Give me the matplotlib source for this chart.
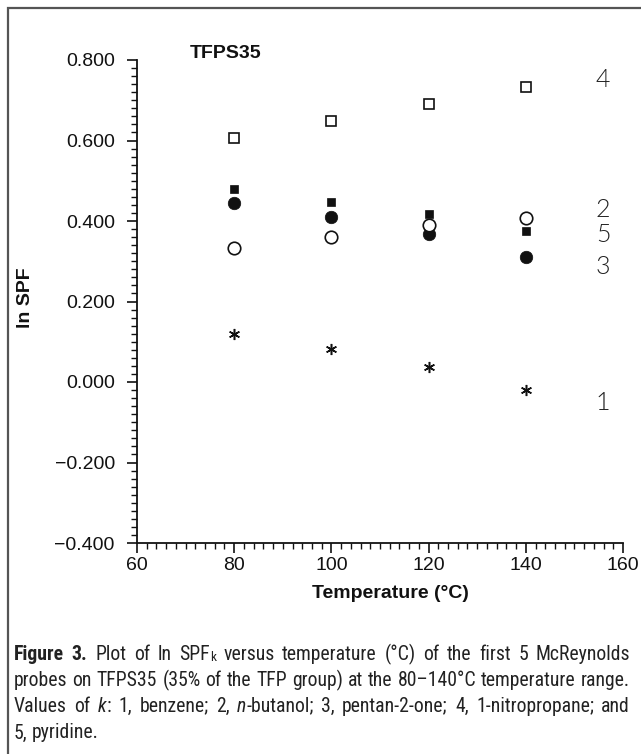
import matplotlib
matplotlib.use("Agg")
import matplotlib.pyplot as plt
from matplotlib.ticker import MultipleLocator, FuncFormatter
from matplotlib.patches import Rectangle
from matplotlib import font_manager
import logging
logging.getLogger("matplotlib.font_manager").setLevel(logging.ERROR)

temperatures = [80, 100, 120, 140]
probe1_benzene = [0.119, 0.082, 0.037, -0.020]
probe2_butanol = [0.332, 0.361, 0.390, 0.407]
probe3_pentanone = [0.444, 0.409, 0.368, 0.311]
probe4_nitropropane = [0.606, 0.648, 0.691, 0.733]
probe5_pyridine = [0.479, 0.448, 0.417, 0.376]

series_labels = ["1", "2", "3", "4", "5"]
label_y = [-0.052, 0.427, 0.286, 0.750, 0.365]

W, H = 641, 754
fig = plt.figure(figsize=(W / 100, H / 100), dpi=100)

def fx(x):
    return x / W

def fy(y):
    return 1 - y / H

# frame around figure
fig.patches.append(Rectangle((fx(8), fy(780)), fx(700), 772 / H, transform=fig.transFigure,
                             fill=False, edgecolor="#555555", lw=1.6))

sans = "Liberation Sans"
ax = fig.add_axes([fx(137), fy(543), fx(623) - fx(137), fy(60) - fy(543)])
ax.set_xlim(60, 160)
ax.set_ylim(-0.4, 0.8)
for s in ["top", "right"]:
    ax.spines[s].set_visible(False)
for s in ["left", "bottom"]:
    ax.spines[s].set_linewidth(1.3)
    ax.spines[s].set_color("#111111")

ax.xaxis.set_major_locator(MultipleLocator(20))
ax.xaxis.set_minor_locator(MultipleLocator(2))
ax.yaxis.set_major_locator(MultipleLocator(0.2))
ax.yaxis.set_minor_locator(MultipleLocator(0.02))
ax.yaxis.set_major_formatter(FuncFormatter(lambda v, p: f"{v:.3f}".replace("-", "\u2212")))
ax.tick_params(which="major", direction="out", length=7, width=1.2, color="#111111",
               labelsize=14, labelcolor="#111111")
ax.tick_params(which="minor", direction="out", length=4.5, width=1.0, color="#111111")
ax.tick_params(axis="y", which="major", pad=9)
ax.tick_params(axis="x", which="major", pad=3)
for lab in ax.get_xticklabels() + ax.get_yticklabels():
    lab.set_fontfamily(sans)

ax.plot(temperatures, probe4_nitropropane, linestyle="none", marker="s", ms=7.5,
        mfc="white", mec="#111111", mew=1.2, clip_on=False)
ax.plot(temperatures, probe5_pyridine, linestyle="none", marker="s", ms=5.5,
        mfc="#111111", mec="#111111", mew=0.5, clip_on=False)
ax.plot(temperatures, probe3_pentanone, linestyle="none", marker="o", ms=9,
        mfc="#111111", mec="#111111", mew=0.5, clip_on=False)
ax.plot(temperatures, probe2_butanol, linestyle="none", marker="o", ms=9,
        mfc="white", mec="#111111", mew=1.2, clip_on=False)
ax.plot(temperatures, probe1_benzene, linestyle="none", marker=(6, 2, 0), ms=8,
        mfc="#111111", mec="#111111", mew=1.1, clip_on=False)

for lab, yv in zip(series_labels, label_y):
    ax.text(155.9, yv, lab, ha="center", va="center", fontsize=18, fontfamily="Lato",
            fontweight=300, color="#222222")

fig.text(fx(190), fy(54), "TFPS35", ha="left", va="center", fontsize=14,
         fontweight="bold", fontfamily=sans, color="#111111")
fig.text(fx(25), fy(298), "ln SPF", ha="center", va="center", rotation=90, fontsize=14,
         fontweight="bold", fontfamily=sans, color="#111111")
fig.text(fx(390), fy(594), "Temperature (\u00b0C)", ha="center", va="center", fontsize=14,
         fontweight="bold", fontfamily=sans, color="#111111")

# caption with mixed styles, justified
avail = {f.name for f in font_manager.fontManager.ttflist}
cap_family = [f for f in ["Roboto Condensed", "Liberation Sans Narrow", "Open Sans Condensed",
                          "Roboto"] if f in avail] or ["DejaVu Sans"]
cap_family = cap_family[:1] + ["DejaVu Sans"]
renderer = fig.canvas.get_renderer()

caption_lines = [
    [("Figure 3.", "bold", "normal", 0), (" Plot of ln SPF", "normal", "normal", 0), ("k", "normal", "normal", 1),
     (" versus temperature (\u00b0C) of the first 5 McReynolds", "normal", "normal", 0)],
    [("probes on TFPS35 (35% of the TFP group) at the 80\u2013140\u00b0C temperature range.", "normal", "normal", 0)],
    [("Values of ", "normal", "normal", 0), ("k", "normal", "italic", 0), (": 1, benzene; 2, ", "normal", "normal", 0),
     ("n", "normal", "italic", 0), ("-butanol; 3, pentan-2-one; 4, 1-nitropropane; and", "normal", "normal", 0)],
    [("5, pyridine.", "normal", "normal", 0)],
]
justify = [True, True, True, False]
line_y = [652, 678, 704, 731]
x_left, x_right = 14, 630


def tokens_of(runs):
    words = [[]]
    for txt, wt, st, sub in runs:
        parts = txt.split(" ")
        for i, p in enumerate(parts):
            if i > 0:
                words.append([])
            if p:
                words[-1].append((p, wt, st, sub))
    return [w for w in words if w]


def measure(piece, size):
    p, wt, st, sub = piece
    s = size * (0.68 if sub else 1.0)
    t = fig.text(0, 0, p, fontsize=s, fontweight=wt, fontstyle=st, family=cap_family)
    w = t.get_window_extent(renderer).width
    t.remove()
    return w


base_size = 17.0
natural = []
for runs in caption_lines:
    words = tokens_of(runs)
    sp = measure(("x x", "normal", "normal", 0), base_size) - measure(("xx", "normal", "normal", 0), base_size)
    tot = sum(sum(measure(pc, base_size) for pc in w) for w in words) + sp * (len(words) - 1)
    natural.append(tot)
cap_size = min(base_size, base_size * (x_right - x_left) / (max(natural) * 1.01))

for runs, yc, jus in zip(caption_lines, line_y, justify):
    words = tokens_of(runs)
    widths = [[measure(pc, cap_size) for pc in w] for w in words]
    sp = measure(("x x", "normal", "normal", 0), cap_size) - measure(("xx", "normal", "normal", 0), cap_size)
    total_words = sum(sum(ws) for ws in widths)
    gap = sp
    if jus and len(words) > 1:
        gap = (x_right - x_left - total_words) / (len(words) - 1)
    x = x_left
    for w, ws in zip(words, widths):
        for pc, pw in zip(w, ws):
            p, wt, st, sub = pc
            s = cap_size * (0.68 if sub else 1.0)
            yy = yc + (4 if sub else 0)
            fig.text(fx(x), fy(yy), p, ha="left", va="center_baseline", fontsize=s,
                     fontweight=wt, fontstyle=st, family=cap_family, color="#222222")
            x += pw
        x += gap

fig.savefig("out.png", dpi=100)
